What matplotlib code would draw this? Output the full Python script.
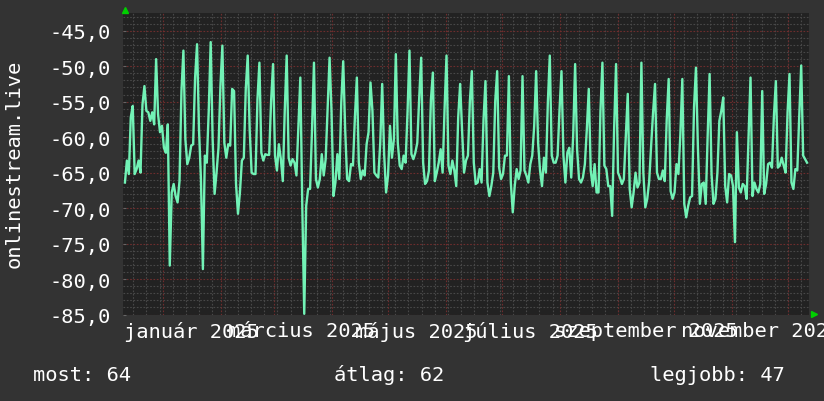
import numpy as np
import pandas as pd
import matplotlib
matplotlib.use("Agg")
import matplotlib.pyplot as plt
import matplotlib.dates as mdates
from matplotlib.ticker import MultipleLocator, FuncFormatter, FixedLocator

BG = "#333333"
PLOT_BG = "#222222"
LINE = "#72f2b6"
RED = "#6e2d2d"
GRAY = "#484848"
ARROW = "#00d000"
FONT = "DejaVu Sans Mono"
FS = 14.7

# napi jelszint (dB), balról jobbra leolvasva
values = [
    -66.4, -63.3, -65.2, -57.2, -55.6, -65.2, -64.5, -63.3, -65.0, -55.4, -52.8, -56.3, -56.5, -57.7,
    -56.5, -58.2, -49.0, -56.8, -59.3, -58.4, -61.5, -62.2, -58.2, -78.1, -67.8, -66.6, -68.3, -69.2,
    -66.2, -53.5, -47.8, -60.3, -63.8, -62.9, -61.2, -61.0, -51.6, -46.9, -58.9, -65.9, -78.6, -62.6,
    -63.6, -56.3, -46.6, -60.3, -68.0, -65.0, -61.5, -52.8, -47.1, -60.8, -62.9, -61.0, -61.2, -53.2,
    -53.5, -66.6, -70.8, -67.8, -63.3, -62.9, -53.2, -48.5, -58.9, -65.0, -65.2, -65.2, -54.7, -49.5,
    -62.2, -63.3, -62.4, -62.5, -62.5, -54.9, -49.7, -62.6, -64.7, -61.0, -63.1, -66.2, -56.3, -48.5,
    # márc. - jún.
    -62.9, -64.0, -63.1, -63.6, -65.4, -58.6, -51.6, -69.7, -84.9, -69.7, -67.3, -67.3, -58.9, -49.5,
    -65.9, -67.1, -65.9, -62.4, -65.4, -63.1, -55.8, -48.8, -56.3, -68.3, -66.4, -62.4, -65.9, -55.1,
    -49.3, -58.9, -65.9, -66.2, -63.8, -64.0, -57.2, -51.6, -63.6, -65.9, -64.7, -65.4, -61.0, -59.3,
    -52.3, -56.3, -65.0, -65.4, -65.7, -60.8, -52.5, -62.4, -67.8, -65.4, -58.4, -62.9, -60.3, -48.3,
    -60.8, -64.0, -64.5, -62.6, -63.6, -56.5, -47.8, -62.4, -63.1, -62.2, -60.8, -54.4, -48.8, -63.6,
    -66.6, -66.2, -64.7, -54.7, -50.9, -66.2, -65.0, -63.6, -61.7, -65.0, -56.1, -48.5, -64.0, -65.2,
    -63.3, -64.7, -66.9, -57.2, -52.5,
    # jún. - szept.
    -59.1, -65.0, -63.3, -62.6, -54.9, -50.7, -63.6, -66.6, -66.4, -64.5, -66.4, -57.5, -52.1, -66.4,
    -68.3, -66.9, -65.0, -54.9, -50.7, -64.3, -65.9, -65.2, -62.6, -62.6, -51.4, -66.4, -70.6, -66.9,
    -64.5, -65.9, -64.7, -51.4, -64.7, -65.4, -66.4, -63.8, -62.6, -58.4, -50.7, -60.8, -64.7, -66.9,
    -62.9, -65.0, -55.1, -48.5, -62.6, -63.6, -63.6, -62.6, -56.1, -50.7, -62.6, -66.4, -62.2, -61.5,
    -65.7, -59.8, -49.7, -61.7, -65.9, -66.4, -65.7, -63.8, -58.9, -53.2, -64.7, -66.9, -63.8, -67.8,
    -67.8, -56.3, -49.5, -64.0, -64.5, -66.9, -66.9, -71.1, -58.9, -49.7, -65.0, -65.7, -66.6, -65.9,
    -59.8, -53.9,
    # szept. - dec.
    -67.3, -69.9, -67.8, -65.0, -67.1, -66.4, -49.5, -65.0, -69.9, -68.7, -66.2, -61.2, -56.5, -52.5,
    -65.0, -65.9, -65.9, -64.7, -66.2, -57.5, -51.8, -67.6, -68.7, -67.8, -63.8, -65.2, -59.6, -51.8,
    -69.4, -71.3, -69.7, -68.5, -68.3, -55.8, -50.2, -61.5, -69.4, -66.6, -66.4, -69.4, -59.8, -51.1,
    -65.2, -69.4, -68.7, -65.0, -57.7, -56.3, -54.4, -66.9, -69.2, -65.2, -65.4, -66.9, -74.8, -59.3,
    -67.1, -67.8, -66.6, -66.9, -68.7, -59.8, -51.6, -68.3, -66.4, -67.3, -67.8, -66.6, -53.5, -68.0,
    -66.6, -63.8, -63.6, -64.3, -57.0, -52.1, -64.3, -64.0, -62.9, -64.0, -65.0, -56.5, -51.1, -66.4,
    -67.3, -64.5, -64.7, -57.0, -49.9, -62.6, -63.1, -63.6,
]
first_day = "2024-12-11 12:00"
last_day = "2025-12-11 00:00"
view = ("2024-12-10 15:00", "2025-12-12 01:00")

label_days = ["2025-01-16", "2025-03-16", "2025-05-16", "2025-07-16", "2025-09-16", "2025-11-16"]
label_text = ["január 2025", "március 2025", "május 2025", "július 2025",
              "szeptember 2025", "november 2025"]
legend = [("most: 64", 33), ("átlag: 62", 334), ("legjobb: 47", 650)]
ylabel = "onlinestream.live"

dates = pd.date_range(first_day, last_day, periods=len(values))

W, H = 824, 402
fig = plt.figure(figsize=(W / 100, H / 100), dpi=100, facecolor=BG)
ax = fig.add_axes([123.3 / W, (H - 315.5) / H, (809 - 123.3) / W, (315.5 - 14) / H])
ax.set_facecolor(PLOT_BG)
for s in ax.spines.values():
    s.set_visible(False)

ax.plot(dates, values, color=LINE, lw=1.7, zorder=4)
ax.set_xlim(pd.Timestamp(view[0]), pd.Timestamp(view[1]))
ax.set_ylim(-85, -42.5)

# rács: heti szürke, havi piros
ax.xaxis.set_minor_locator(mdates.WeekdayLocator(byweekday=mdates.MO))
ax.xaxis.grid(True, which="minor", color=GRAY, lw=0.8, ls=(0, (1.5, 1.5)), zorder=1)
for m in pd.date_range("2025-01-01", "2025-12-01", freq="MS"):
    ax.axvline(m, color=RED, lw=0.8, ls=(0, (1.5, 1.5)), zorder=2)
ax.xaxis.set_major_locator(FixedLocator(mdates.date2num(pd.to_datetime(label_days))))
ax.set_xticklabels(label_text)

ax.yaxis.set_major_locator(MultipleLocator(5))
ax.yaxis.set_minor_locator(MultipleLocator(1))
ax.yaxis.set_major_formatter(FuncFormatter(lambda v, p: f"{v:.1f}".replace(".", ",")))
ax.yaxis.grid(True, which="minor", color=GRAY, lw=0.8, ls=(0, (1.5, 1.5)), zorder=1)
ax.yaxis.grid(True, which="major", color=RED, lw=0.8, ls=(0, (1.5, 1.5)), zorder=2)

ax.tick_params(axis="x", which="both", length=0, pad=5, labelcolor="white", labelsize=FS)
ax.tick_params(axis="y", which="major", length=2, direction="in", color="#666666",
               pad=9, labelcolor="white", labelsize=FS)
ax.tick_params(axis="y", which="minor", length=0)
for t in ax.get_xticklabels() + ax.get_yticklabels():
    t.set_fontfamily(FONT)

fig.text(14 / W, (H - 164) / H, ylabel, rotation=90, ha="center", va="center",
         color="white", fontsize=FS, family=FONT)
for txt, x in legend:
    fig.text(x / W, (H - 381) / H, txt, ha="left", va="baseline", color="white",
             fontsize=FS, family=FONT)

# tengely nyilak
fig.lines.append(plt.Line2D([125 / W], [(H - 10.5) / H], marker="^", ms=5, color=ARROW,
                            transform=fig.transFigure))
fig.lines.append(plt.Line2D([813.7 / W], [(H - 315) / H], marker=">", ms=5, color=ARROW,
                            transform=fig.transFigure))

fig.savefig("out.png", dpi=100, facecolor=BG)
